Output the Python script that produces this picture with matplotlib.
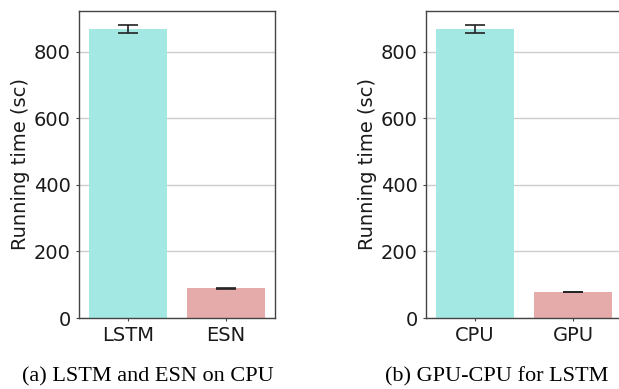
import matplotlib.pyplot as plt
import numpy as np

# running times (seconds)
cpu_labels = ["LSTM", "ESN"]
cpu_means = [868, 89]
cpu_errs = [13, 1]

dev_labels = ["CPU", "GPU"]
dev_means = [868, 78]
dev_errs = [13, 1]

colors = ["#a4e8e4", "#e5abab"]
captions = ["(a) LSTM and ESN on CPU", "(b) GPU-CPU for LSTM"]


def draw_panel(ax, labels, means, errs):
	x = np.arange(len(labels))
	ax.bar(x, means, 0.8, color=colors, zorder=2)
	ax.errorbar(x, means, yerr=errs, fmt='none', ecolor='#222222',
	            elinewidth=1.2, capsize=7.5, capthick=1.2, zorder=3)
	ax.set_xticks(x, labels)
	ax.set_xlim(-0.5, 1.5)
	ax.set_ylim(0, 922)
	ax.set_yticks([0, 200, 400, 600, 800])
	ax.yaxis.grid(True, color='#cccccc', linewidth=1, zorder=0)
	ax.set_axisbelow(True)
	ax.set_ylabel('Running time (sc)', fontsize=14, color='#1a1a1a', labelpad=3)
	ax.tick_params(labelsize=14, length=2.5, width=0.8, colors='#444444',
	               labelcolor='#1a1a1a')
	for s in ax.spines.values():
		s.set_color('#444444')
		s.set_linewidth(1)


fig = plt.figure(figsize=(6.19, 3.89), dpi=100)
ax1 = fig.add_axes([79 / 619, 1 - 318 / 389, 196 / 619, 307 / 389])
ax2 = fig.add_axes([426 / 619, 1 - 318 / 389, 196 / 619, 307 / 389])
draw_panel(ax1, cpu_labels, cpu_means, cpu_errs)
draw_panel(ax2, dev_labels, dev_means, dev_errs)

fig.text(148 / 619, 1 - 377 / 389, captions[0], ha='center', va='center',
         family='Liberation Serif', fontsize=16)
fig.text(497 / 619, 1 - 377 / 389, captions[1], ha='center', va='center',
         family='Liberation Serif', fontsize=16)

fig.savefig('out.png', dpi=100)
